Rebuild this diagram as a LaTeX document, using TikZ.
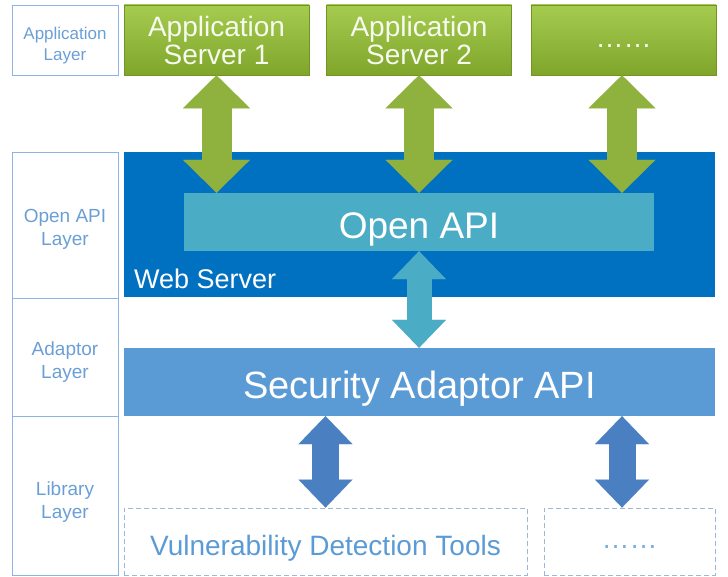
\documentclass[tikz,border=0pt]{standalone}
\usepackage{fontspec}
\setmainfont{Liberation Sans}
\usetikzlibrary{arrows.meta,calc}
\definecolor{appgreen}{HTML}{93BB3C}
\definecolor{appgreentop}{HTML}{A5CB4F}
\definecolor{appgreenbot}{HTML}{7FA52B}
\definecolor{arrgreen}{HTML}{8FB13E}
\definecolor{webblue}{HTML}{0070C0}
\definecolor{apiteal}{HTML}{4BACC6}
\definecolor{adpblue}{HTML}{5B9BD5}
\definecolor{libblue}{HTML}{4A7FC2}
\definecolor{layerline}{HTML}{8EB4E3}
\definecolor{layertext}{HTML}{6A9FD6}
\definecolor{dashline}{HTML}{9FB7D6}
\newcommand{\fsz}[1]{\fontsize{#1}{#1}\selectfont}
\tikzset{
  layerbox/.style={draw=layerline, line width=0.8pt, minimum width=106pt, align=center,
    text=layertext, font=\fsz{19}, inner sep=0pt, text height=42pt, text depth=0pt},
  appbox/.style={top color=appgreentop, bottom color=appgreenbot, draw=appgreenbot!90!black,
    line width=0.6pt, minimum width=185pt, minimum height=70pt, align=center,
    text=white!92!appgreen, font=\fontsize{28}{28}\selectfont, inner sep=0pt,
    text height=50pt, text depth=0pt},
  toolbox/.style={draw=dashline, dash pattern=on 5pt off 3pt, line width=0.9pt,
    minimum height=67pt, text=adpblue, font=\fsz{28}, inner sep=0pt,
    text height=27pt, text depth=0pt},
  fatarrow/.style n args={4}{draw=#1, line width=#2,
    {Triangle[width=#3,length=#4,line width=0.01pt]}-{Triangle[width=#3,length=#4,line width=0.01pt]}},
}
\begin{document}
\begin{tikzpicture}[x=1pt,y=-1pt]
\useasboundingbox (0,0) rectangle (728,577);

% layer captions
\node[layerbox, minimum height=70pt, font=\fontsize{17}{21}\selectfont] (applayer) at (65,40) {Application\\Layer};
\node[layerbox, minimum height=146pt, font=\fontsize{19}{23}\selectfont] (apilayer) at (65,225) {Open API\\Layer};
\node[layerbox, minimum height=118pt, font=\fontsize{19}{23}\selectfont] (adplayer) at (65,357) {Adaptor\\Layer};
\node[layerbox, minimum height=159pt, font=\fontsize{19}{23}\selectfont, text height=46pt] (liblayer) at (65,495.5) {Library\\Layer};

% application servers
\node[appbox] (srv1) at (216.5,40) {Application\\Server 1};
\node[appbox] (srv2) at (419,40) {Application\\Server 2};
\node[appbox, text height=16pt] (srv3) at (623.5,40) {……};

% web server with the open api inside
\node[fill=webblue, minimum width=591pt, minimum height=145pt, inner sep=0pt] (web) at (419.5,224.5) {};
\node[anchor=base west, text=white, font=\fsz{27}, inner sep=0pt] (webtxt) at ($(web.south west)+(10,-9)$) {Web Server};
\node[fill=apiteal, minimum width=470pt, minimum height=58pt, text=white, font=\fsz{37}, inner sep=0pt,
  text height=34pt, text depth=0pt] (api) at (419,222) {Open API};

% adaptor
\node[fill=adpblue, minimum width=591pt, minimum height=68pt, text=white, font=\fsz{38}, inner sep=0pt,
  text height=32pt, text depth=0pt] (adp) at (419.5,382) {Security Adaptor API};

% libraries
\node[toolbox, minimum width=403pt] (vuln) at (325.5,541.5) {Vulnerability Detection Tools};
\node[toolbox, minimum width=171pt, text=adpblue!80, text height=14pt] (etc) at (629.5,541.5) {……};

% connectors
\draw[fatarrow={arrgreen}{30pt}{67pt}{33pt}] (srv1.south) -- (srv1.south |- api.north);
\draw[fatarrow={arrgreen}{30pt}{67pt}{33pt}] (srv2.south) -- (srv2.south |- api.north);
\draw[fatarrow={arrgreen}{30pt}{67pt}{33pt}] ($(srv3.south)+(-1.5,0)$) -- ($(srv3.south |- api.north)+(-1.5,0)$);
\draw[fatarrow={apiteal}{25pt}{54pt}{28pt}] (api.south) -- (api.south |- adp.north);
\draw[fatarrow={libblue}{27pt}{54pt}{28pt}] (vuln.north |- adp.south) -- (vuln.north);
\draw[fatarrow={libblue}{27pt}{54pt}{28pt}] ($(srv3.south |- adp.south)+(-1.5,0)$) -- ($(srv3.south |- etc.north)+(-1.5,0)$);
\end{tikzpicture}
\end{document}
